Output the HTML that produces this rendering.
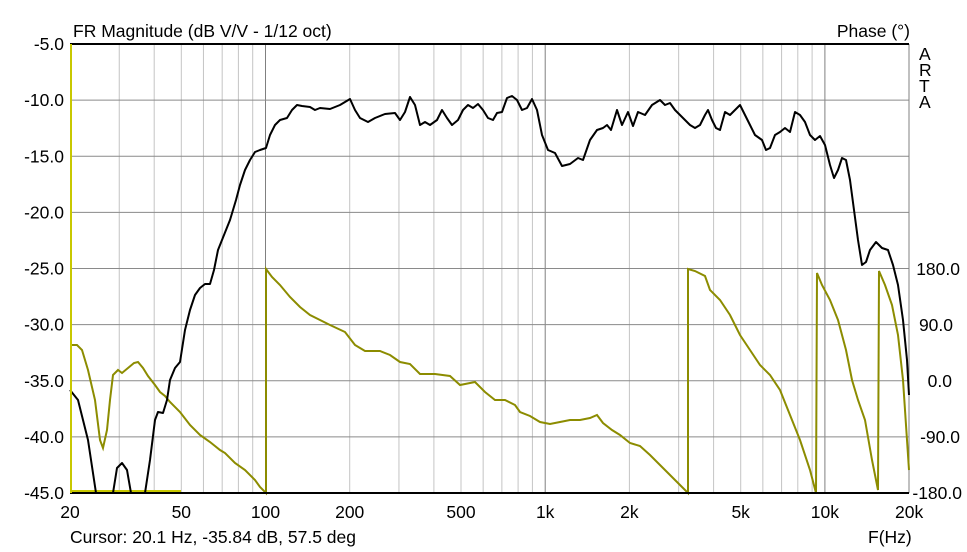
<!DOCTYPE html>
<html><head><meta charset="utf-8"><style>
body{margin:0;background:#fff;}
svg{display:block;font-family:"Liberation Sans",Arial,sans-serif;font-size:17.5px;}
</style></head><body>
<svg id="s" width="967" height="552" xmlns="http://www.w3.org/2000/svg">
<rect width="967" height="552" fill="#fff"/>
<g id="grid"></g>
<text x="73" y="37">FR Magnitude (dB V/V - 1/12 oct)</text>
<text x="910" y="37" text-anchor="end">Phase (°)</text>
<g text-anchor="end" id="yl"></g>
<g id="yr" text-anchor="end"></g>
<g text-anchor="middle" id="xl"></g>
<text x="919" y="60">A</text><text x="919" y="76">R</text><text x="919" y="92">T</text><text x="919" y="108">A</text>
<text x="70" y="543">Cursor: 20.1 Hz, -35.84 dB, 57.5 deg</text>
<text x="868" y="543">F(Hz)</text>
<line x1="70" y1="491" x2="181" y2="491" stroke="#c8c800" stroke-width="2"/>
<polyline id="ph" fill="none" stroke="#8c8c00" stroke-width="2" points="70,345 77,345 82,350 88,370 95,400 100,440 103,448 107,430 110,400 113,375 118,370 122,373 128,368 134,363 138,362 143,368 148,376 155,385 160,392 165,396 170,402 180,412 190,425 200,435 210,442 220,450 225,453 235,463 245,470 255,480 260,487 266,493 266,269 272,277 280,285 290,297 300,307 310,315 320,320 330,325 345,332 355,345 365,351 380,351 390,355 400,362 410,364 420,374 435,374 450,376 460,385 475,382 485,392 495,400 505,400 515,405 520,412 530,416 540,422 550,424 560,422 570,420 580,420 590,418 597,415 603,423 612,430 620,435 630,443 640,446 650,455 660,465 670,475 680,485 688,493 688,269 695,271 705,276 710,290 720,300 730,315 740,335 750,350 760,365 770,375 780,390 790,415 800,440 810,470 816,493 817,273 822,285 830,300 838,320 846,350 852,380 858,400 865,420 872,460 878,490 879,271 885,285 892,305 898,335 903,380 909,470"/>
<path fill="none" stroke="#000" stroke-width="2" stroke-linejoin="round" d="M70,390 L78,400 L88,440 L96,493 M113,493 L117,468 L122,463 L127,470 L131,493 M145,493 L150,460 L155,420 L158,412 L163,413 L167,400 L170,380 L175,368 L180,362 L185,330 L190,310 L195,295 L200,288 L205,284 L210,284 L214,270 L218,250 L224,235 L230,220 L236,200 L240,185 L245,170 L250,160 L255,152 L260,150 L266,148 L270,135 L275,125 L280,120 L287,118 L292,110 L297,105 L302,106 L310,107 L315,110 L320,108 L330,109 L340,105 L350,99 L355,110 L360,118 L368,122 L375,118 L385,114 L395,113 L400,120 L405,112 L410,97 L415,105 L420,125 L425,122 L430,125 L437,120 L442,110 L447,118 L452,125 L458,120 L463,110 L468,105 L473,108 L478,104 L483,110 L488,118 L493,120 L497,113 L502,112 L507,98 L512,96 L517,100 L522,110 L527,108 L532,99 L537,110 L542,135 L548,150 L555,153 L562,166 L570,164 L578,158 L583,160 L590,140 L597,130 L603,128 L607,125 L611,130 L617,110 L622,125 L628,112 L633,126 L638,112 L645,115 L652,105 L660,100 L665,105 L670,103 L675,110 L680,115 L685,120 L690,125 L695,128 L700,125 L705,115 L708,110 L712,120 L716,128 L720,130 L725,112 L730,115 L735,110 L740,105 L745,115 L750,125 L755,135 L762,140 L766,150 L770,148 L775,135 L780,132 L785,128 L790,132 L795,112 L800,115 L805,122 L810,135 L815,140 L820,136 L825,145 L830,165 L834,178 L838,170 L842,158 L846,160 L850,180 L854,210 L858,240 L862,265 L866,262 L870,250 L876,242 L882,248 L888,250 L893,265 L898,285 L903,320 L907,360 L909,395"/>
<line x1="70" y1="44" x2="909" y2="44" stroke="#000" stroke-width="2"/>
<line x1="70" y1="493" x2="909" y2="493" stroke="#000" stroke-width="2"/>
<line x1="71" y1="44" x2="71" y2="493" stroke="#c8c800" stroke-width="2"/>
</svg>
<script>
var ns="http://www.w3.org/2000/svg";
function el(p,t,a,txt){var e=document.createElementNS(ns,t);for(var k in a)e.setAttribute(k,a[k]);if(txt!=null)e.textContent=txt;document.getElementById(p).appendChild(e);}
function X(f){return 70+279.7*Math.log10(f/20);}
var fs=[];[10,100,1000,10000].forEach(function(d){for(var i=1;i<10;i++){var f=i*d;if(f>20&&f<20000)fs.push(f);}});
fs.forEach(function(f){var dec=(f==100||f==1000||f==10000);el("grid","line",{x1:X(f),x2:X(f),y1:44,y2:493,stroke:dec?"#808080":"#c4c4c4","stroke-width":1});});
for(var i=1;i<8;i++){var y=44+i*56.125;el("grid","line",{x1:70,x2:909,y1:y,y2:y,stroke:"#8a8a8a","stroke-width":1});}
el("grid","line",{x1:909,x2:909,y1:44,y2:493,stroke:"#808080"});
for(var i=0;i<=8;i++){el("yl","text",{x:64,y:44+i*56.125+6},(-5-5*i).toFixed(1));}
[["180.0",960],["90.0",953],["0.0",952],["-90.0",960],["-180.0",962]].forEach(function(t,i){el("yr","text",{x:t[1],y:269+i*56+6},t[0]);});
[[20,"20"],[50,"50"],[100,"100"],[200,"200"],[500,"500"],[1000,"1k"],[2000,"2k"],[5000,"5k"],[10000,"10k"],[20000,"20k"]].forEach(function(p){el("xl","text",{x:X(p[0]),y:518},p[1]);});
</script>
</body></html>
